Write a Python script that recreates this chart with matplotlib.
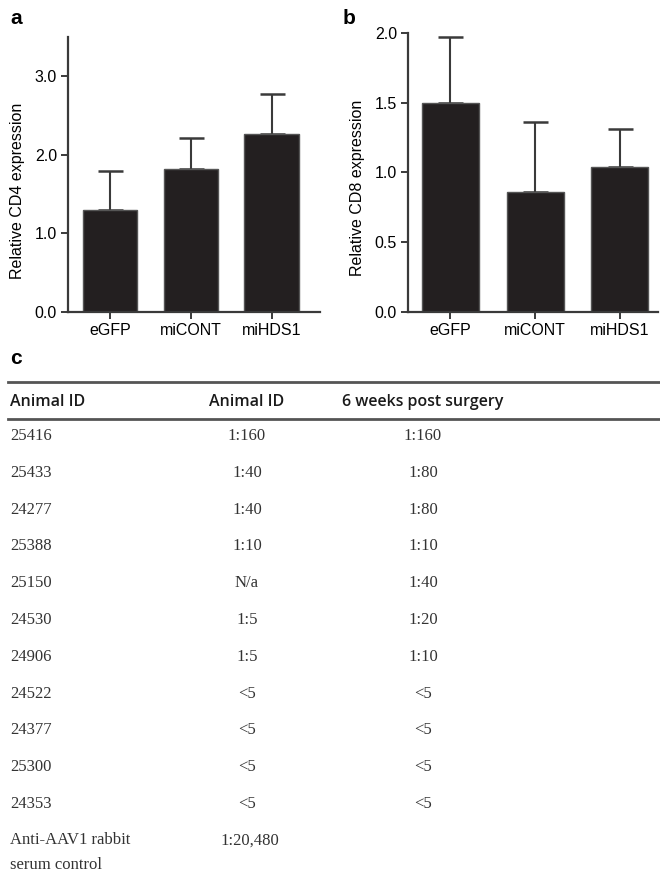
import matplotlib
matplotlib.use('Agg')
import matplotlib.pyplot as plt
from matplotlib.lines import Line2D

# panel a / b data
groups = ['eGFP', 'miCONT', 'miHDS1']
cd4_mean = [1.30, 1.82, 2.27]
cd4_err = [0.50, 0.39, 0.50]
cd8_mean = [1.50, 0.86, 1.04]
cd8_err = [0.47, 0.50, 0.27]

# panel c table
col_headers = ['Animal ID', 'Animal ID', '6 weeks post surgery']
animal_ids = ['25416', '25433', '24277', '25388', '25150', '24530', '24906',
              '24522', '24377', '25300', '24353', 'Anti-AAV1 rabbit\nserum control']
titer_pre = ['1:160', '1:40', '1:40', '1:10', 'N/a', '1:5', '1:5',
             '<5', '<5', '<5', '<5', '1:20,480']
titer_post = ['1:160', '1:80', '1:80', '1:10', '1:40', '1:20', '1:10',
              '<5', '<5', '<5', '<5', '']

W, H = 660, 888
fig = plt.figure(figsize=(W/100, H/100), dpi=100)
sans = 'Liberation Sans'
bar_col = '#231f20'
line_col = '#3a3a3a'


def bar_panel(rect, means, errs, ylim, yticks, ylabel, xlim, label_xy):
    ax = fig.add_axes(rect)
    x = range(len(groups))
    ax.bar(x, means, width=0.67, color=bar_col, edgecolor='#555555', linewidth=1.0, zorder=2)
    ax.errorbar(x, means, yerr=[[0]*len(errs), errs], fmt='none', ecolor=line_col,
                elinewidth=1.5, capsize=9, capthick=1.8, zorder=1)
    ax.set_ylim(*ylim)
    ax.set_xlim(*xlim)
    ax.set_yticks(yticks)
    ax.set_yticklabels(['%.1f' % t for t in yticks], fontfamily=sans, fontsize=11.5)
    ax.set_xticks(list(x))
    ax.set_xticklabels(groups, fontfamily=sans, fontsize=11.5)
    ax.set_ylabel(ylabel, fontfamily=sans, fontsize=11.5)
    ax.yaxis.set_label_coords(*label_xy)
    for s in ['top', 'right']:
        ax.spines[s].set_visible(False)
    for s in ['left', 'bottom']:
        ax.spines[s].set_linewidth(1.6)
        ax.spines[s].set_color(line_col)
    ax.tick_params(axis='both', length=5, width=1.4, color=line_col, pad=3)
    return ax


bar_panel([68/W, 1-312/H, (320-68)/W, (312-37)/H], cd4_mean, cd4_err,
          (0, 3.5), [0.0, 1.0, 2.0, 3.0], 'Relative CD4 expression', (-0.52, 2.6),
          (-(68-25)/252, 0.44))
bar_panel([408/W, 1-312/H, (658-408)/W, (312-33)/H], cd8_mean, cd8_err,
          (0, 2.0), [0.0, 0.5, 1.0, 1.5, 2.0], 'Relative CD8 expression', (-0.5, 2.45),
          (-(408-365)/250, 0.445))

# panel labels
fig.text(10/W, 1-24/H, 'a', fontfamily=sans, fontweight='bold', fontsize=15)
fig.text(343/W, 1-24/H, 'b', fontfamily=sans, fontweight='bold', fontsize=15)
fig.text(10/W, 1-364/H, 'c', fontfamily=sans, fontweight='bold', fontsize=15)

# table rules
for yy in [382, 419]:
    fig.add_artist(Line2D([8/W, 1.0], [1-yy/H, 1-yy/H], transform=fig.transFigure,
                          color='#555555', linewidth=2.0))

col_x = [10/W, 247/W, 423/W]
head_y = 1-402/H
for j, align in enumerate(['left', 'center', 'center']):
    fig.text(col_x[j], head_y, col_headers[j], fontfamily='Open Sans', fontweight='semibold',
             fontsize=11.5, ha=align, va='center', color='#1a1a1a')

serif = 'Liberation Serif'
row0, step = 436, 36.8
for i in range(len(animal_ids)):
    yy = 1-(row0 + i*step)/H
    if '\n' in animal_ids[i]:
        fig.text(col_x[0], yy + 9/H, animal_ids[i], fontfamily=serif, fontsize=12,
                 ha='left', va='top', color='#333333', linespacing=1.8)
        fig.text(220/W, yy, titer_pre[i], fontfamily=serif, fontsize=12, ha='left',
                 va='center', color='#333333')
        continue
    fig.text(col_x[0], yy, animal_ids[i], fontfamily=serif, fontsize=12, ha='left',
             va='center', color='#333333')
    fig.text(col_x[1], yy, titer_pre[i], fontfamily=serif, fontsize=12, ha='center',
             va='center', color='#333333')
    fig.text(col_x[2], yy, titer_post[i], fontfamily=serif, fontsize=12, ha='center',
             va='center', color='#333333')

fig.savefig('out.png', dpi=100)
